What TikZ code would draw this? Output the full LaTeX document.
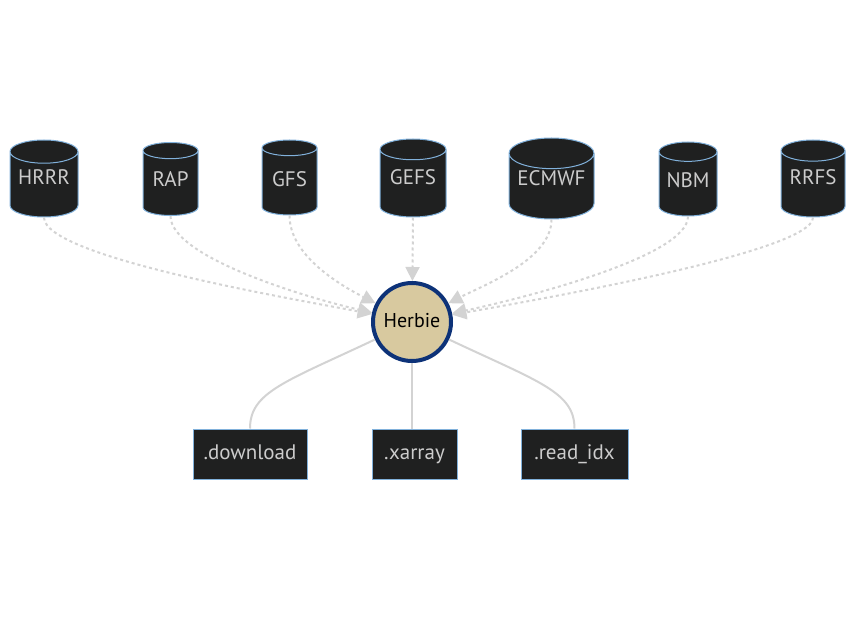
\documentclass[tikz,border=0pt]{standalone}
\usepackage{fontspec}
\setmainfont{PT Sans}
\usetikzlibrary{shapes.geometric,arrows.meta}

\definecolor{dbfill}{HTML}{1F2020}
\definecolor{dbline}{HTML}{81B1DB}
\definecolor{dbtext}{HTML}{CCCCCC}
\definecolor{edgegray}{HTML}{D3D3D3}
\definecolor{herbiefill}{HTML}{D8C99F}
\definecolor{herbieline}{HTML}{0D3278}

\begin{document}
\begin{tikzpicture}[x=1pt,y=-1pt]
    % Styles for the model stores, the core node and the methods
    \tikzstyle{every node}=[font=\fontsize{21}{24}\selectfont, text height=14pt, text depth=4pt]
    \tikzstyle{db}=[cylinder, shape border rotate=90, aspect=0.45, draw=dbline, fill=dbfill,
        text=dbtext, line width=1pt, minimum height=77pt, inner sep=0pt,
        anchor=shape center, text depth=17.5pt]
    \tikzstyle{method}=[rectangle, draw=dbline, fill=dbfill, text=dbtext, line width=1pt,
        minimum height=50pt, inner sep=0pt]
    \tikzstyle{source}=[edgegray, line width=2pt, dash pattern=on 3pt off 3pt,
        -{Triangle[length=14pt,width=14pt]}]
    \tikzstyle{link}=[edgegray, line width=2pt]

    \useasboundingbox (0,0) rectangle (856,617);

    % The model data sources (text depth lowers the label)
    \node[db, minimum width=68pt, text depth=13.5pt] (hrrr) at (44,178.5) {HRRR};
    \node[db, minimum width=55pt, minimum height=73pt, text depth=7.5pt] (rap) at (170.5,179) {RAP};
    \node[db, minimum width=55pt, minimum height=75pt, text depth=3.5pt] (gfs) at (289.5,177.5) {GFS};
    \node[db, minimum width=66pt, minimum height=78pt, text depth=11.5pt] (gefs) at (413,178) {GEFS};
    \node[db, minimum width=85pt, minimum height=81pt, text depth=15.5pt] (ecmwf) at (551.5,178.5) {ECMWF};
    \node[db, minimum width=58pt, minimum height=74pt, text depth=7.5pt] (nbm) at (688,179) {NBM};
    \node[db, minimum width=64pt, text depth=13.5pt] (rrfs) at (813,178.5) {RRFS};

    % Herbie in the middle
    \node[circle, draw=herbieline, fill=herbiefill, line width=4pt, minimum size=78pt,
        inner sep=0pt, text=black, font=\fontsize{20}{24}\selectfont] (herbie) at (412,322) {Herbie};

    % The methods below
    \node[method, minimum width=114pt] (download) at (250,454) {.download};
    \node[method, minimum width=85pt] (xarray) at (414.5,454) {.xarray};
    \node[method, minimum width=107pt] (readidx) at (574.5,454) {.read\_idx};

    % Dashed arrows from the sources into Herbie
    \draw[source] (hrrr.south) .. controls +(0,40) and (300,300) .. (herbie);
    \draw[source] (rap.south) .. controls +(0,40) and (300,296) .. (herbie);
    \draw[source] (gfs.south) .. controls +(0,40) and (340,285) .. (herbie);
    \draw[source] (gefs.south) -- (herbie);
    \draw[source] (ecmwf.south) .. controls +(0,40) and (484,285) .. (herbie);
    \draw[source] (nbm.south) .. controls +(0,40) and (524,298) .. (herbie);
    \draw[source] (rrfs.south) .. controls +(0,35) and (524,302) .. (herbie);

    % Solid lines down to the methods
    \draw[link] (herbie) .. controls (285,382) and (250,392) .. (download.north);
    \draw[link] (herbie) -- (herbie |- xarray.north);
    \draw[link] (herbie) .. controls (539,382) and (574.5,392) .. (readidx.north);

\end{tikzpicture}
\end{document}
